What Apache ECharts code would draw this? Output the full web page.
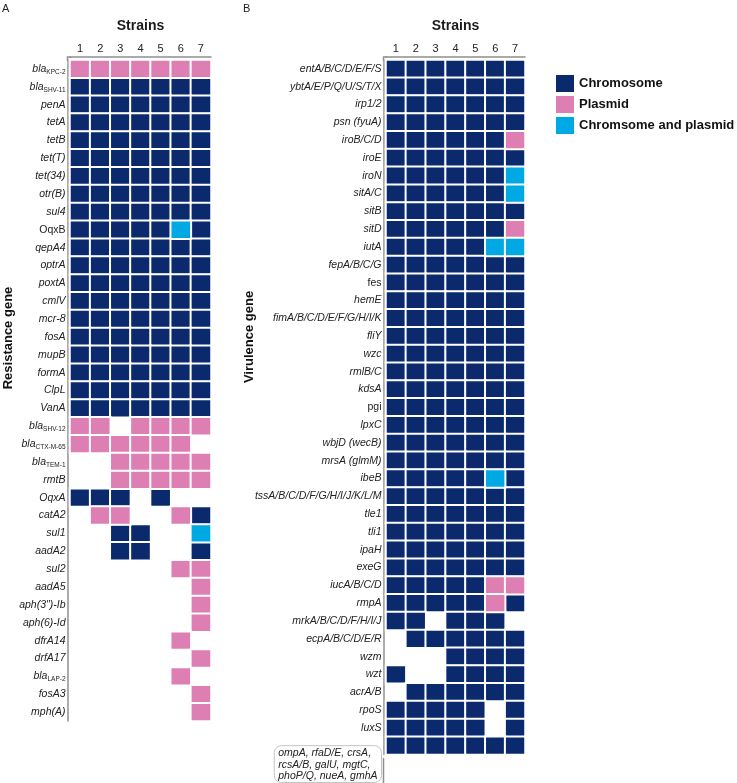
<!DOCTYPE html>
<html>
<head>
<meta charset="utf-8">
<script src="https://cdn.jsdelivr.net/npm/echarts@6/dist/echarts.min.js"></script>
<style>
  html, body { margin: 0; padding: 0; background: #fff; }
  #chart { width: 737px; height: 783px; }
</style>
</head>
<body>
<div id="chart"></div>
<script>
// 0 = absent, 1 = chromosome, 2 = plasmid, 3 = chromosome and plasmid
const strains = ['1', '2', '3', '4', '5', '6', '7'];
const typeNames = ['Chromosome', 'Plasmid', 'Chromsome and plasmid'];
const typeColors = ['#0b2a6e', '#de7fb4', '#00a9e3'];

const resistanceGenes = [
  'bla_KPC-2', 'bla_SHV-11', 'penA', 'tetA', 'tetB', 'tet(T)', 'tet(34)', 'otr(B)', 'sul4', 'OqxB',
  'qepA4', 'optrA', 'poxtA', 'cmlV', 'mcr-8', 'fosA', 'mupB', 'formA', 'ClpL', 'VanA',
  'bla_SHV-12', 'bla_CTX-M-65', 'bla_TEM-1', 'rmtB', 'OqxA', 'catA2', 'sul1', 'aadA2', 'sul2', 'aadA5',
  'aph(3")-Ib', 'aph(6)-Id', 'dfrA14', 'drfA17', 'bla_LAP-2', 'fosA3', 'mph(A)'
];
const resistanceValues = [
  [2, 2, 2, 2, 2, 2, 2],
  [1, 1, 1, 1, 1, 1, 1],
  [1, 1, 1, 1, 1, 1, 1],
  [1, 1, 1, 1, 1, 1, 1],
  [1, 1, 1, 1, 1, 1, 1],
  [1, 1, 1, 1, 1, 1, 1],
  [1, 1, 1, 1, 1, 1, 1],
  [1, 1, 1, 1, 1, 1, 1],
  [1, 1, 1, 1, 1, 1, 1],
  [1, 1, 1, 1, 1, 3, 1],
  [1, 1, 1, 1, 1, 1, 1],
  [1, 1, 1, 1, 1, 1, 1],
  [1, 1, 1, 1, 1, 1, 1],
  [1, 1, 1, 1, 1, 1, 1],
  [1, 1, 1, 1, 1, 1, 1],
  [1, 1, 1, 1, 1, 1, 1],
  [1, 1, 1, 1, 1, 1, 1],
  [1, 1, 1, 1, 1, 1, 1],
  [1, 1, 1, 1, 1, 1, 1],
  [1, 1, 1, 1, 1, 1, 1],
  [2, 2, 0, 2, 2, 2, 2],
  [2, 2, 2, 2, 2, 2, 0],
  [0, 0, 2, 2, 2, 2, 2],
  [0, 0, 2, 2, 2, 2, 2],
  [1, 1, 1, 0, 1, 0, 0],
  [0, 2, 2, 0, 0, 2, 1],
  [0, 0, 1, 1, 0, 0, 3],
  [0, 0, 1, 1, 0, 0, 1],
  [0, 0, 0, 0, 0, 2, 2],
  [0, 0, 0, 0, 0, 0, 2],
  [0, 0, 0, 0, 0, 0, 2],
  [0, 0, 0, 0, 0, 0, 2],
  [0, 0, 0, 0, 0, 2, 0],
  [0, 0, 0, 0, 0, 0, 2],
  [0, 0, 0, 0, 0, 2, 0],
  [0, 0, 0, 0, 0, 0, 2],
  [0, 0, 0, 0, 0, 0, 2]
];

const virulenceGenes = [
  'entA/B/C/D/E/F/S', 'ybtA/E/P/Q/U/S/T/X', 'irp1/2', 'psn (fyuA)', 'iroB/C/D', 'iroE', 'iroN', 'sitA/C',
  'sitB', 'sitD', 'iutA', 'fepA/B/C/G', 'fes', 'hemE', 'fimA/B/C/D/E/F/G/H/I/K', 'fliY', 'wzc', 'rmlB/C',
  'kdsA', 'pgi', 'lpxC', 'wbjD (wecB)', 'mrsA (glmM)', 'ibeB', 'tssA/B/C/D/F/G/H/I/J/K/L/M', 'tle1', 'tli1',
  'ipaH', 'exeG', 'iucA/B/C/D', 'rmpA', 'mrkA/B/C/D/F/H/I/J', 'ecpA/B/C/D/E/R', 'wzm', 'wzt', 'acrA/B',
  'rpoS', 'luxS', 'ompA, rfaD/E, crsA,\nrcsA/B, galU, mgtC,\nphoP/Q, nueA, gmhA'
];
const virulenceValues = [
  [1, 1, 1, 1, 1, 1, 1],
  [1, 1, 1, 1, 1, 1, 1],
  [1, 1, 1, 1, 1, 1, 1],
  [1, 1, 1, 1, 1, 1, 1],
  [1, 1, 1, 1, 1, 1, 2],
  [1, 1, 1, 1, 1, 1, 1],
  [1, 1, 1, 1, 1, 1, 3],
  [1, 1, 1, 1, 1, 1, 3],
  [1, 1, 1, 1, 1, 1, 1],
  [1, 1, 1, 1, 1, 1, 2],
  [1, 1, 1, 1, 1, 3, 3],
  [1, 1, 1, 1, 1, 1, 1],
  [1, 1, 1, 1, 1, 1, 1],
  [1, 1, 1, 1, 1, 1, 1],
  [1, 1, 1, 1, 1, 1, 1],
  [1, 1, 1, 1, 1, 1, 1],
  [1, 1, 1, 1, 1, 1, 1],
  [1, 1, 1, 1, 1, 1, 1],
  [1, 1, 1, 1, 1, 1, 1],
  [1, 1, 1, 1, 1, 1, 1],
  [1, 1, 1, 1, 1, 1, 1],
  [1, 1, 1, 1, 1, 1, 1],
  [1, 1, 1, 1, 1, 1, 1],
  [1, 1, 1, 1, 1, 3, 1],
  [1, 1, 1, 1, 1, 1, 1],
  [1, 1, 1, 1, 1, 1, 1],
  [1, 1, 1, 1, 1, 1, 1],
  [1, 1, 1, 1, 1, 1, 1],
  [1, 1, 1, 1, 1, 1, 1],
  [1, 1, 1, 1, 1, 2, 2],
  [1, 1, 1, 1, 1, 2, 1],
  [1, 1, 0, 1, 1, 1, 0],
  [0, 1, 1, 1, 1, 1, 1],
  [0, 0, 0, 1, 1, 1, 1],
  [1, 0, 0, 1, 1, 1, 1],
  [0, 1, 1, 1, 1, 1, 1],
  [1, 1, 1, 1, 1, 0, 1],
  [1, 1, 1, 1, 1, 0, 1],
  [1, 1, 1, 1, 1, 1, 1]
];

// labels printed upright instead of italic
const uprightLabels = ['OqxB', 'fes', 'pgi'];

const FONT = '"Liberation Sans", Arial, Helvetica, sans-serif';
const AXIS_GRAY = '#8f8f8f';

function geneLabel(v) {
  if (v.indexOf('\n') >= 0) {
    // boxed multi-line label, lines kept left aligned
    return v.split('\n').map(function (l) { return '{b|' + l + '}'; }).join('\n');
  }
  if (v.indexOf('_') > 0) {
    const p = v.split('_');
    return '{i|' + p[0] + '}{s|' + p[1] + '}';
  }
  if (uprightLabels.indexOf(v) >= 0) return '{n|' + v + '}';
  return '{i|' + v + '}';
}

function buildSeries(values, gridIndex) {
  return typeNames.map(function (name, k) {
    const data = [];
    values.forEach(function (row, r) {
      row.forEach(function (code, c) {
        if (code === k + 1) data.push([c, r, code]);
      });
    });
    return {
      name: name,
      type: 'heatmap',
      xAxisIndex: gridIndex,
      yAxisIndex: gridIndex,
      data: data,
      itemStyle: { color: typeColors[k], borderColor: '#ffffff', borderWidth: 2 },
      emphasis: { disabled: true },
      label: { show: false }
    };
  });
}

function xAxisFor(gridIndex) {
  return {
    type: 'category',
    gridIndex: gridIndex,
    data: strains,
    position: 'top',
    offset: 3,
    name: 'Strains',
    nameLocation: 'middle',
    nameGap: 24,
    nameTextStyle: { fontFamily: FONT, fontSize: 14, fontWeight: 'bold', color: '#1a1a1a' },
    axisLine: { show: true, lineStyle: { color: AXIS_GRAY, width: 1.5 } },
    axisTick: { show: false },
    splitLine: { show: false },
    axisLabel: { fontFamily: FONT, fontSize: 11, color: '#222', margin: 3 }
  };
}

function yAxisFor(gridIndex, genes) {
  return {
    type: 'category',
    gridIndex: gridIndex,
    inverse: true,
    offset: 2.5,
    data: genes.map(function (g) {
      if (g.indexOf('\n') >= 0) {
        return {
          value: g,
          textStyle: {
            lineHeight: 11.3,
            verticalAlign: 'top',
            borderColor: '#c4c4c4',
            borderWidth: 1,
            borderRadius: 7,
            padding: [2, 4, 1, 4]
          }
        };
      }
      return g;
    }),
    axisLine: { show: true, lineStyle: { color: AXIS_GRAY, width: 1.5 } },
    axisTick: { show: false },
    splitLine: { show: false },
    axisLabel: {
      interval: 0,
      margin: 2,
      fontFamily: FONT,
      fontSize: 10.5,
      fontStyle: 'italic',
      color: '#222',
      formatter: geneLabel,
      rich: {
        i: { fontFamily: FONT, fontSize: 10.5, fontStyle: 'italic', color: '#222', lineHeight: 13 },
        n: { fontFamily: FONT, fontSize: 10.5, fontStyle: 'normal', color: '#222', lineHeight: 13 },
        s: { fontFamily: FONT, fontSize: 6.5, fontStyle: 'normal', color: '#222', lineHeight: 7, verticalAlign: 'bottom' },
        b: { fontFamily: FONT, fontSize: 10.5, fontStyle: 'italic', color: '#222', lineHeight: 11.3, align: 'left' }
      }
    }
  };
}

const chart = echarts.init(document.getElementById('chart'), null, { renderer: 'canvas' });

chart.setOption({
  backgroundColor: '#ffffff',
  animation: false,
  textStyle: { fontFamily: FONT },
  grid: [
    { left: 70, top: 60, width: 141, height: 661 },
    { left: 386, top: 60, width: 139, height: 698 }
  ],
  xAxis: [xAxisFor(0), xAxisFor(1)],
  yAxis: [yAxisFor(0, resistanceGenes), yAxisFor(1, virulenceGenes)],
  legend: {
    data: typeNames,
    orient: 'vertical',
    left: 556,
    top: 75,
    padding: 0,
    icon: 'rect',
    itemWidth: 18,
    itemHeight: 17,
    itemGap: 4,
    selectedMode: false,
    itemStyle: { borderWidth: 0 },
    textStyle: { fontFamily: FONT, fontSize: 13, fontWeight: 'bold', color: '#111' }
  },
  graphic: [
    { type: 'text', left: 2, top: 3, style: { text: 'A', font: '11px ' + FONT, fill: '#222' } },
    { type: 'text', left: 243, top: 3, style: { text: 'B', font: '11px ' + FONT, fill: '#222' } },
    {
      type: 'text', x: 8, y: 338, rotation: Math.PI / 2,
      style: { text: 'Resistance gene', font: 'bold 13px ' + FONT, fill: '#111', align: 'center', verticalAlign: 'middle' }
    },
    {
      type: 'text', x: 249, y: 337, rotation: Math.PI / 2,
      style: { text: 'Virulence gene', font: 'bold 13px ' + FONT, fill: '#111', align: 'center', verticalAlign: 'middle' }
    },
    // corners where the top and left axis lines meet
    {
      type: 'polyline', shape: { points: [[67.5, 61], [67.5, 57], [71, 57]] },
      style: { stroke: AXIS_GRAY, lineWidth: 1.5, fill: null }
    },
    {
      type: 'polyline', shape: { points: [[383.5, 61], [383.5, 57], [387, 57]] },
      style: { stroke: AXIS_GRAY, lineWidth: 1.5, fill: null }
    },
    // axis line of panel B continues down past the last row
    {
      type: 'line', shape: { x1: 383.5, y1: 758, x2: 383.5, y2: 783 },
      style: { stroke: AXIS_GRAY, lineWidth: 1.5 }
    }
  ],
  series: buildSeries(resistanceValues, 0).concat(buildSeries(virulenceValues, 1))
});
</script>
</body>
</html>
